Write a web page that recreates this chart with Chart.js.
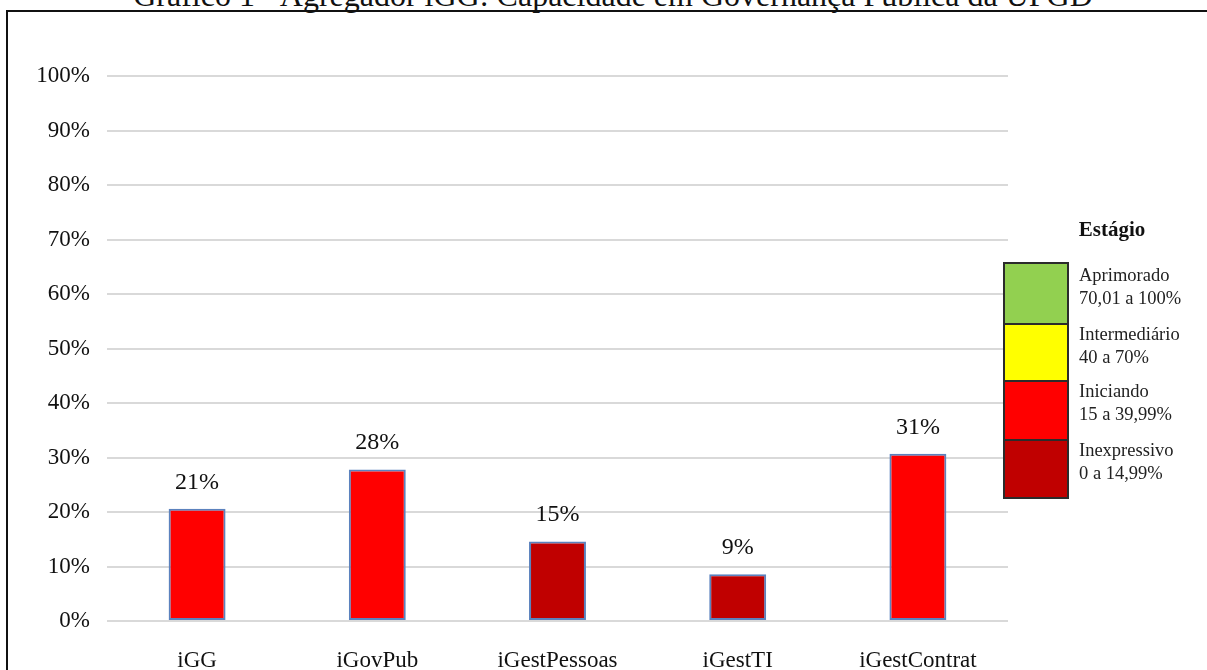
<!DOCTYPE html>
<html>
<head>
<meta charset="utf-8">
<script src="https://cdn.jsdelivr.net/npm/chart.js@4"></script>
<style>
  html, body { margin: 0; padding: 0; background: #fff; overflow: hidden; }
  body { width: 1207px; height: 670px; position: relative; font-family: "Liberation Serif", "Times New Roman", serif; color: #111; }
  #title { position: absolute; left: 0; width: 1226px; top: -21px; text-align: center; font-size: 32px; line-height: 32px; white-space: nowrap; }
  #frame { position: absolute; left: 6px; top: 10px; width: 1300px; height: 800px; border: 2px solid #111; }
  #chart-wrap { position: absolute; left: 0; top: 0; width: 1207px; height: 670px; }
  #legend-title { position: absolute; left: 1050px; width: 124px; top: 216px; text-align: center; font-weight: bold; font-size: 21px; line-height: 26px; }
  #swatches { position: absolute; left: 1003px; top: 262px; width: 62px; border: 2px solid #2b2b2b; }
  .swatch { width: 62px; box-sizing: border-box; }
  .swatch + .swatch { border-top: 2px solid #2b2b2b; }
  .legend-text { position: absolute; left: 1079px; font-size: 18.5px; line-height: 23px; color: #222; white-space: nowrap; }
</style>
</head>
<body>
<div id="title">Gráfico 1 - Agregador iGG: Capacidade em Governança Pública da UFGD</div>
<div id="frame"></div>
<div id="chart-wrap"><canvas id="igg-chart" width="1207" height="670"></canvas></div>
<div id="legend"></div>

<script>
// Indicadores e percentuais de capacidade
var categories = ['iGG', 'iGovPub', 'iGestPessoas', 'iGestTI', 'iGestContrat'];
var values = [20.6, 27.8, 14.6, 8.6, 30.7];
var yTicks = [0, 10, 20, 30, 40, 50, 60, 70, 80, 90, 100];

// Faixas de estágio (de cima para baixo na legenda)
var stageNames = ['Aprimorado', 'Intermediário', 'Iniciando', 'Inexpressivo'];
var stageRanges = ['70,01 a 100%', '40 a 70%', '15 a 39,99%', '0 a 14,99%'];
var stageColors = ['#92D050', '#FFFF00', '#FF0000', '#C00000'];
var stageMin = [70.01, 40, 15, 0];

// cor da barra conforme o estágio do valor
function stageColor(v) {
    for (var i = 0; i < stageMin.length; i++) {
        if (v >= stageMin[i]) return stageColors[i];
    }
    return stageColors[stageColors.length - 1];
}

// legenda lateral
var legend = document.getElementById('legend');
var lt = document.createElement('div');
lt.id = 'legend-title';
lt.textContent = 'Estágio';
legend.appendChild(lt);

var boxTops = [262, 321, 378, 437, 495];
var swatches = document.createElement('div');
swatches.id = 'swatches';
legend.appendChild(swatches);
stageNames.forEach(function(name, i) {
    var sw = document.createElement('div');
    sw.className = 'swatch';
    sw.style.height = (boxTops[i + 1] - boxTops[i]) + 'px';
    sw.style.background = stageColors[i];
    swatches.appendChild(sw);

    var tx = document.createElement('div');
    tx.className = 'legend-text';
    tx.style.top = (boxTops[i] + 2) + 'px';
    tx.innerHTML = name + '<br>' + stageRanges[i];
    legend.appendChild(tx);
});

// rótulos de valor acima das barras
var valueLabels = {
    id: 'valueLabels',
    afterDatasetsDraw: function(chart) {
        var ctx = chart.ctx;
        var meta = chart.getDatasetMeta(0);
        ctx.save();
        ctx.font = '24px "Liberation Serif"';
        ctx.fillStyle = '#111';
        ctx.textAlign = 'center';
        ctx.textBaseline = 'alphabetic';
        meta.data.forEach(function(bar, i) {
            ctx.fillText(Math.round(values[i]) + '%', bar.x, bar.y - 20);
        });
        ctx.restore();
    }
};

var ctx = document.getElementById('igg-chart').getContext('2d');
var iggChart = new Chart(ctx, {
    type: 'bar',
    data: {
        labels: categories,
        datasets: [{
            data: values,
            backgroundColor: values.map(stageColor),
            borderColor: '#5B82BE',
            borderWidth: 2,
            borderSkipped: false,
            barPercentage: 1,
            categoryPercentage: 0.316
        }]
    },
    options: {
        responsive: false,
        animation: false,
        layout: { padding: { left: 0, right: 199, top: 76, bottom: 0 } },
        plugins: {
            legend: { display: false },
            tooltip: { enabled: false }
        },
        scales: {
            x: {
                grid: { display: false },
                border: { display: false },
                ticks: {
                    color: '#111',
                    font: { family: 'Liberation Serif', size: 23 },
                    padding: 18
                },
                afterFit: function(scale) { scale.height = 49; }
            },
            y: {
                min: 0,
                max: 100,
                afterBuildTicks: function(scale) {
                    scale.ticks = yTicks.map(function(v) { return { value: v }; });
                },
                grid: { color: '#D9D9D9', lineWidth: 2, drawTicks: false },
                border: { display: false },
                ticks: {
                    color: '#111',
                    font: { family: 'Liberation Serif', size: 23 },
                    padding: 17,
                    callback: function(v) { return v + '%'; }
                },
                afterFit: function(scale) { scale.width = 107; }
            }
        }
    },
    plugins: [valueLabels]
});
</script>
</body>
</html>
